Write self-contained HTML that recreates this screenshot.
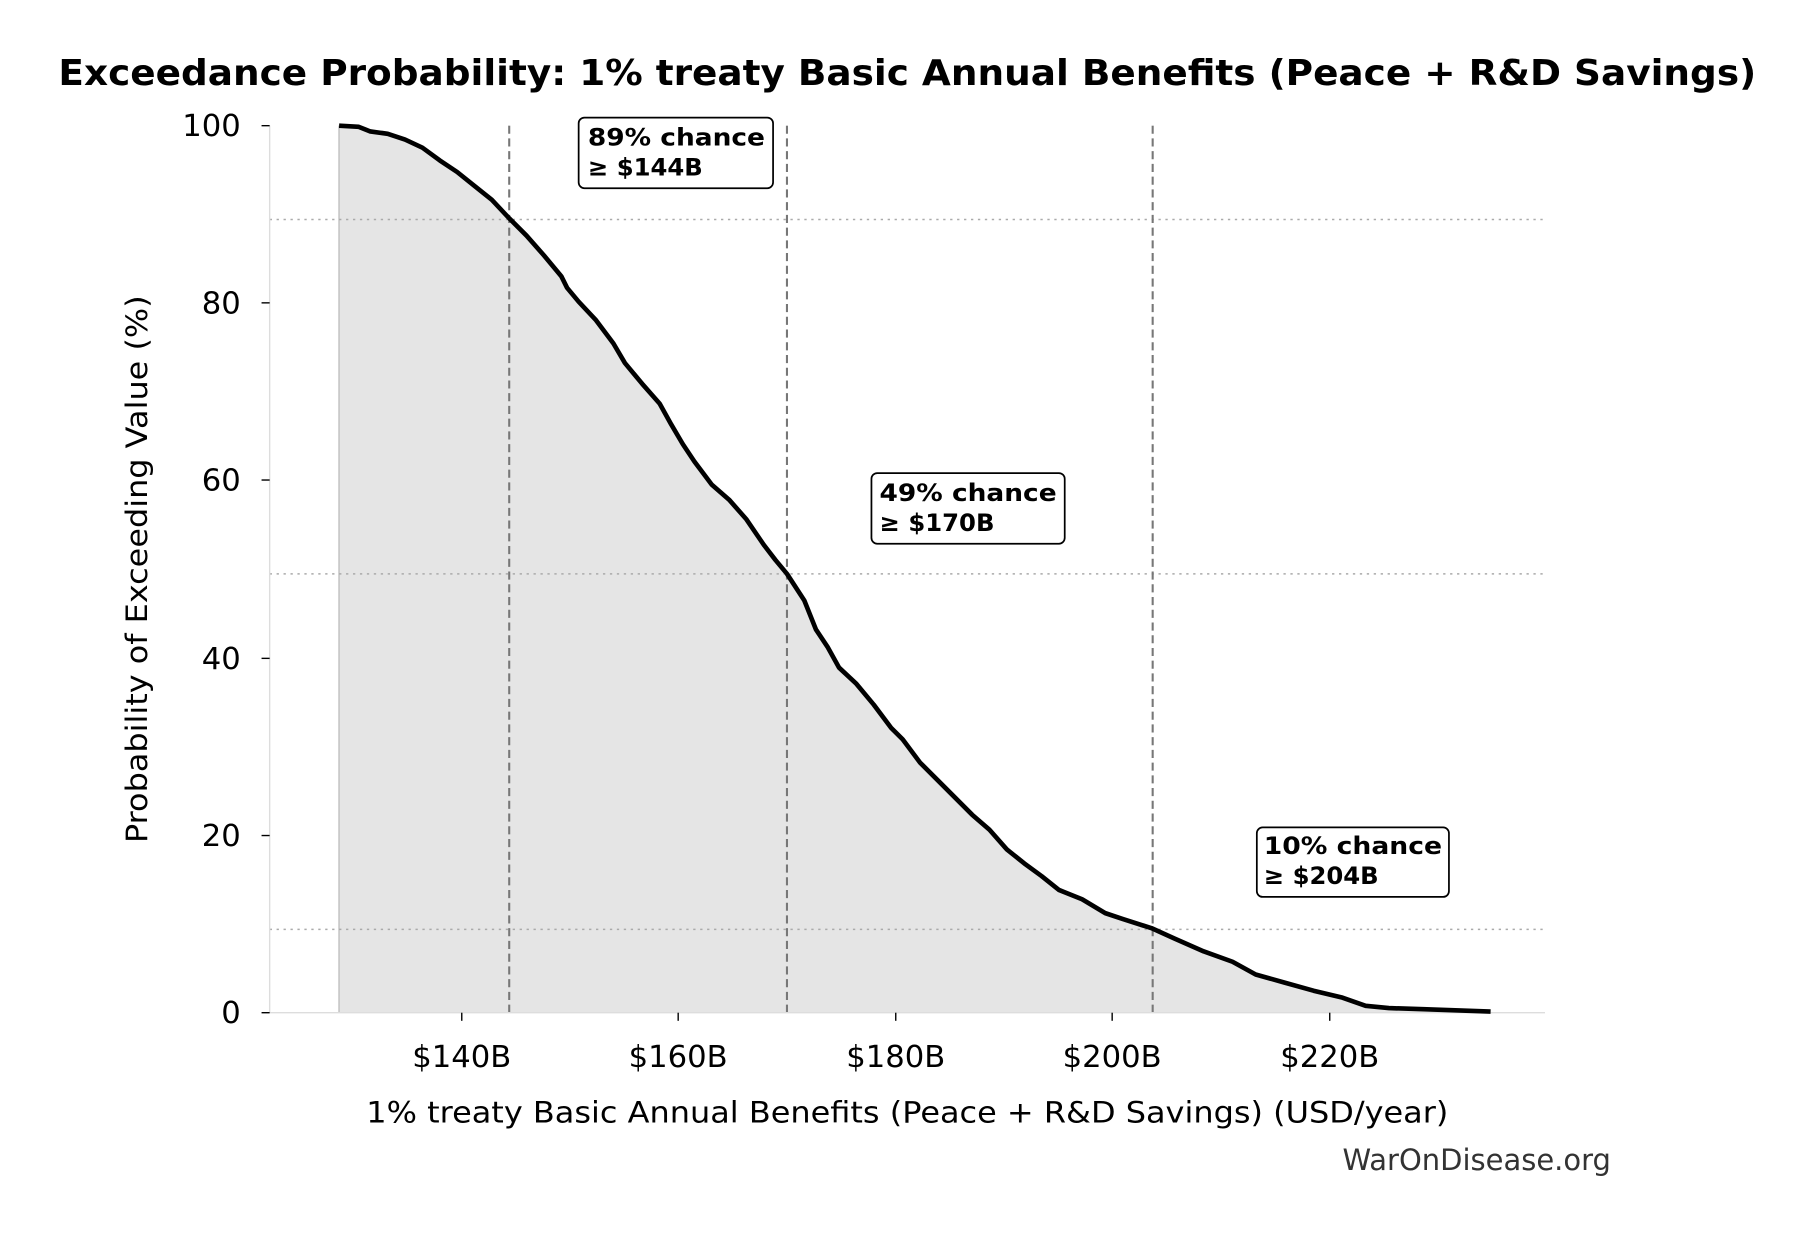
<!DOCTYPE html>
<html><head><meta charset="utf-8"><style>
html,body{margin:0;padding:0;background:#fff;}
svg{display:block;}
text{font-family:"DejaVu Sans","Liberation Sans",sans-serif;}
</style></head><body>
<svg width="1814" height="1234" viewBox="0 0 1814 1234" xmlns="http://www.w3.org/2000/svg">
<rect width="1814" height="1234" fill="#fff"/>
<g transform="matrix(1.1573,0,0,1.158,0,-1.7)">
<path d="M293,876 L293,110 L310,111 L320,115 L335,117 L350,122 L365,129 L380,140 L395,150 L410,162 L425,174 L440,190 L455,205 L470,222 L485,240 L490,250 L500,262 L515,278 L530,298 L540,315 L555,333 L570,350 L580,368 L590,385 L600,400 L615,420 L630,433 L645,450 L660,472 L670,485 L680,497 L695,520 L705,545 L715,560 L725,578 L740,592 L755,610 L770,630 L780,640 L795,660 L810,675 L825,690 L840,705 L855,718 L870,735 L885,747 L900,758 L915,770 L935,778 L955,790 L970,795 L995,803 L1015,812 L1040,823 L1065,832 L1085,843 L1110,850 L1135,857 L1160,863 L1180,870 L1200,872 L1230,873 L1288,875 L1288,876 Z" fill="#e5e5e5"/>
<line x1="293" y1="110" x2="293" y2="876" stroke="#c8c8c8" stroke-width="1.5"/>
<g stroke="#aaa" stroke-width="1.3" stroke-dasharray="2,4">
<line x1="233" y1="191" x2="1335" y2="191"/>
<line x1="233" y1="497" x2="1335" y2="497"/>
<line x1="233" y1="804" x2="1335" y2="804"/>
</g>
<g stroke="#777" stroke-width="1.8" stroke-dasharray="7,4">
<line x1="440" y1="110" x2="440" y2="876"/>
<line x1="680" y1="110" x2="680" y2="876"/>
<line x1="996" y1="110" x2="996" y2="876"/>
</g>
<line x1="233" y1="110" x2="233" y2="876" stroke="#ddd" stroke-width="1.2"/>
<line x1="233" y1="876" x2="1335" y2="876" stroke="#ddd" stroke-width="1.2"/>
<path d="M293,110 L310,111 L320,115 L335,117 L350,122 L365,129 L380,140 L395,150 L410,162 L425,174 L440,190 L455,205 L470,222 L485,240 L490,250 L500,262 L515,278 L530,298 L540,315 L555,333 L570,350 L580,368 L590,385 L600,400 L615,420 L630,433 L645,450 L660,472 L670,485 L680,497 L695,520 L705,545 L715,560 L725,578 L740,592 L755,610 L770,630 L780,640 L795,660 L810,675 L825,690 L840,705 L855,718 L870,735 L885,747 L900,758 L915,770 L935,778 L955,790 L970,795 L995,803 L1015,812 L1040,823 L1065,832 L1085,843 L1110,850 L1135,857 L1160,863 L1180,870 L1200,872 L1230,873 L1288,875" fill="none" stroke="#000" stroke-width="4" stroke-linejoin="round"/>
<g stroke="#000" stroke-width="1.2">
<line x1="226" y1="110" x2="233" y2="110"/>
<line x1="226" y1="263" x2="233" y2="263"/>
<line x1="226" y1="416" x2="233" y2="416"/>
<line x1="226" y1="570" x2="233" y2="570"/>
<line x1="226" y1="723" x2="233" y2="723"/>
<line x1="226" y1="876" x2="233" y2="876"/>
<line x1="399" y1="876" x2="399" y2="883"/>
<line x1="586" y1="876" x2="586" y2="883"/>
<line x1="774" y1="876" x2="774" y2="883"/>
<line x1="961" y1="876" x2="961" y2="883"/>
<line x1="1149" y1="876" x2="1149" y2="883"/>
</g>
<g font-size="26.5" fill="#000" text-anchor="end">
<text x="208" y="119">100</text>
<text x="208" y="272">80</text>
<text x="208" y="425">60</text>
<text x="208" y="579">40</text>
<text x="208" y="732">20</text>
<text x="208" y="885">0</text>
</g>
<g font-size="26.5" fill="#000" text-anchor="middle">
<text x="399" y="923">$140B</text>
<text x="586" y="923">$160B</text>
<text x="774" y="923">$180B</text>
<text x="961" y="923">$200B</text>
<text x="1149" y="923">$220B</text>
</g>
<text x="784" y="971" font-size="25" text-anchor="middle" textLength="935" lengthAdjust="spacingAndGlyphs">1% treaty Basic Annual Benefits (Peace + R&amp;D Savings) (USD/year)</text>
<text transform="translate(127,493) rotate(-90)" font-size="25" text-anchor="middle" textLength="473" lengthAdjust="spacingAndGlyphs">Probability of Exceeding Value (%)</text>
<text x="784" y="75" font-size="31" font-weight="bold" text-anchor="middle" textLength="1467" lengthAdjust="spacingAndGlyphs">Exceedance Probability: 1% treaty Basic Annual Benefits (Peace + R&amp;D Savings)</text>
<text x="1392" y="1012" font-size="25" fill="#333" text-anchor="end" textLength="232" lengthAdjust="spacingAndGlyphs">WarOnDisease.org</text>
<g fill="#fff" stroke="#000" stroke-width="1.5">
<rect x="500" y="103" width="168" height="61" rx="5"/>
<rect x="753" y="410" width="167" height="61" rx="5"/>
<rect x="1086" y="716" width="166" height="60" rx="5"/>
</g>
<g font-size="21" font-weight="bold" fill="#000">
<text x="508" y="127" textLength="153" lengthAdjust="spacingAndGlyphs">89% chance</text>
<text x="508" y="153">≥ $144B</text>
<text x="760" y="434" textLength="153" lengthAdjust="spacingAndGlyphs">49% chance</text>
<text x="760" y="460">≥ $170B</text>
<text x="1092" y="739" textLength="154" lengthAdjust="spacingAndGlyphs">10% chance</text>
<text x="1092" y="765">≥ $204B</text>
</g>
</g>
</svg>
</body></html>
